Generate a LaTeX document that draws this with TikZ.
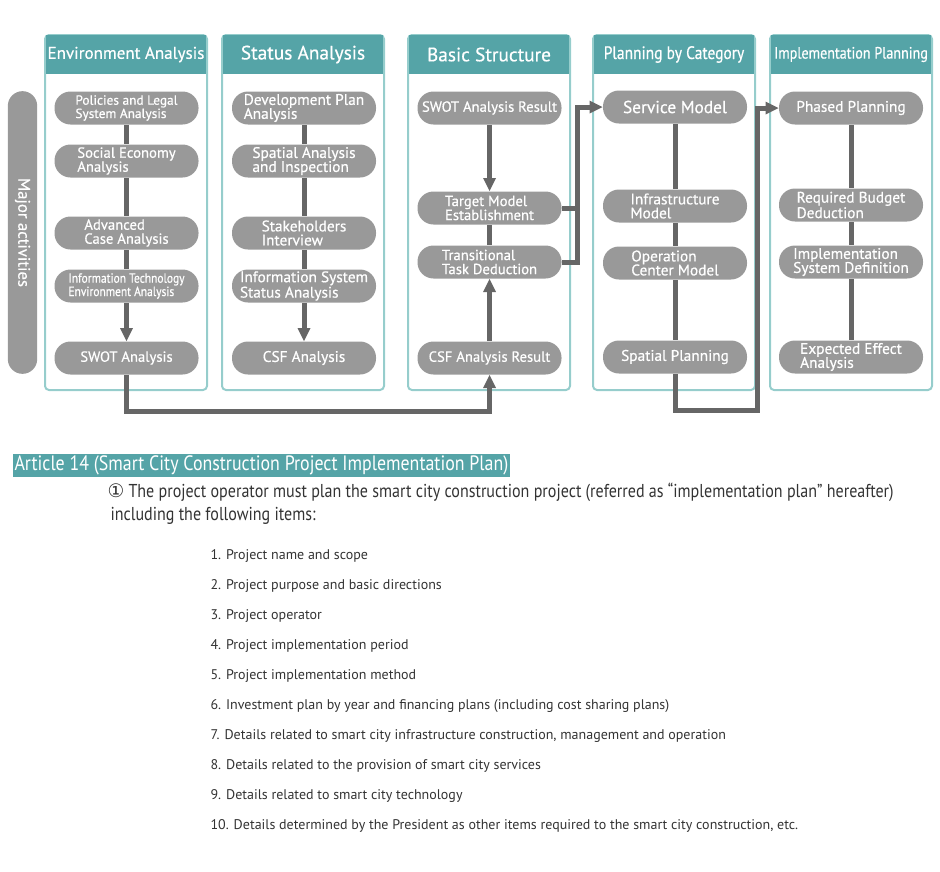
\documentclass[tikz,border=0pt]{standalone}
\usepackage{fontspec}
\setmainfont{PT Sans}
\newfontfamily\narrowfont[FakeStretch=0.86]{PT Sans}
\newfontfamily\labelfont[FakeBold=0.5]{PT Sans}
\newfontfamily\narrowlabel[FakeStretch=0.86,FakeBold=0.5]{PT Sans}
\newfontfamily\symfont{DejaVu Sans}

\definecolor{headteal}{RGB}{85,164,167}
\definecolor{frameteal}{RGB}{150,205,204}
\definecolor{pillgray}{RGB}{153,153,153}
\definecolor{flowgray}{RGB}{102,102,102}
\definecolor{bodytext}{RGB}{51,51,51}

\tikzset{every picture/.style={line width=0.75pt}}
\tikzset{
	framebox/.style={draw=frameteal, line width=1.5pt, rounded corners=3pt},
	headbox/.style={rectangle, fill=headteal, text=white, minimum width=120pt, minimum height=29pt, inner sep=0pt, font=\labelfont\fontsize{12.75}{14}\selectfont},
	pill/.style={rectangle, rounded corners=12pt, fill=pillgray, text=white, minimum width=108pt, minimum height=24.75pt, inner sep=0pt, align=left, font=\labelfont\fontsize{11}{10.5}\selectfont},
	widepill/.style={pill, font=\labelfont\fontsize{11.5}{10.5}\selectfont},
	flow/.style={draw=flowgray, line width=3.75pt},
	tiphead/.style={fill=flowgray, draw opacity=0, line width=0.08pt},
	bodyline/.style={anchor=west, inner sep=0.75pt, text=bodytext, font=\fontsize{10.5}{12}\selectfont}
}

\begin{document}
\begin{tikzpicture}[x=0.75pt,y=0.75pt,yscale=-1,xscale=1]
	\useasboundingbox (0,0) rectangle (940,872);
	
	%Shape: Rectangle (panel frames)
	\draw [framebox] (45,35) rectangle (207,390);
	\draw [framebox] (222,35) rectangle (384,390);
	\draw [framebox] (408,35) rectangle (570,390);
	\draw [framebox] (593,35) rectangle (755,390);
	\draw [framebox] (770,35) rectangle (932,390);
	
	% Header Nodes
	\node [headbox] (hdEnv) at (126,54.5) {Environment Analysis};
	\node [headbox, font=\labelfont\fontsize{14.5}{16}\selectfont] (hdSta) at (303,54.5) {Status Analysis};
	\node [headbox, font=\labelfont\fontsize{14.5}{16}\selectfont] (hdBas) at (489,54.5) {Basic Structure};
	\node [headbox, font=\narrowlabel\fontsize{13.5}{14}\selectfont] (hdCat) at (674,54.5) {Planning by Category};
	\node [headbox, font=\narrowlabel\fontsize{12.3}{14}\selectfont] (hdImp) at (851,54.5) {Implementation Planning};
	
	% Side label
	\node [rectangle, rounded corners=11pt, fill=pillgray, text=white, minimum width=212pt, minimum height=22pt, inner sep=0pt, rotate=-90, font=\labelfont\fontsize{12.5}{13}\selectfont] (major) at (22.5,232.5) {Major activities};
	
	% Environment Analysis column
	\node [pill, font=\labelfont\fontsize{10}{10}\selectfont] (pol) at (126.5,108) {Policies and Legal\\System Analysis};
	\node [pill] (soc) at (126.5,161) {Social Economy\\Analysis};
	\node [pill] (adv) at (126.5,233) {Advanced\\Case Analysis};
	\node [pill, font=\narrowlabel\fontsize{10}{10}\selectfont] (itec) at (126.5,286) {Information Technology\\Environment Analysis};
	\node [pill] (swot) at (126.5,358) {SWOT Analysis};
	
	% Status Analysis column
	\node [widepill] (dev) at (304,108) {Development Plan\\Analysis};
	\node [widepill] (spa) at (304,161) {Spatial Analysis\\and Inspection};
	\node [widepill] (stk) at (304,233) {Stakeholders\\Interview};
	\node [widepill] (isys) at (304,286) {Information System\\Status Analysis};
	\node [widepill] (csf) at (304,358) {CSF Analysis};
	
	% Basic Structure column
	\node [pill] (sres) at (489.5,108) {SWOT Analysis Result};
	\node [pill] (tgt) at (489.5,208) {Target Model\\Establishment};
	\node [pill] (trn) at (489.5,262) {Transitional\\Task Deduction};
	\node [pill] (cres) at (489.5,358) {CSF Analysis Result};
	
	% Planning by Category column
	\node [pill, font=\labelfont\fontsize{13}{14}\selectfont] (svc) at (675,107) {Service Model};
	\node [widepill] (infra) at (675,206) {Infrastructure\\Model};
	\node [widepill] (oper) at (675,263) {Operation\\Center Model};
	\node [widepill] (spat) at (675,357) {Spatial Planning};
	
	% Implementation Planning column
	\node [widepill] (phs) at (851,108) {Phased Planning};
	\node [widepill] (bud) at (851,205) {Required Budget\\Deduction};
	\node [widepill] (idef) at (851,262) {Implementation\\System Definition};
	\node [widepill] (eff) at (851,357) {Expected Effect\\Analysis};
	
	%Straight Lines
	\draw [flow] (pol) -- (soc);
	\draw [flow] (soc) -- (adv);
	\draw [flow] (adv) -- (itec);
	\draw [flow, shorten >=9pt] (itec) -- (swot);
	\draw [shift={(swot.north)}, rotate=-90] [tiphead] (13,-6.5) -- (0,0) -- (13,6.5) -- cycle;
	%Straight Lines
	\draw [flow] (dev) -- (spa);
	\draw [flow] (spa) -- (stk);
	\draw [flow] (stk) -- (isys);
	\draw [flow, shorten >=9pt] (isys) -- (csf);
	\draw [shift={(csf.north)}, rotate=-90] [tiphead] (13,-6.5) -- (0,0) -- (13,6.5) -- cycle;
	%Straight Lines
	\draw [flow, shorten >=9pt] (sres) -- (tgt);
	\draw [shift={(tgt.north)}, rotate=-90] [tiphead] (13,-6.5) -- (0,0) -- (13,6.5) -- cycle;
	\draw [flow] (tgt) -- (trn);
	\draw [flow, shorten >=9pt] (cres) -- (trn);
	\draw [shift={(trn.south)}, rotate=90] [tiphead] (13,-6.5) -- (0,0) -- (13,6.5) -- cycle;
	%Straight Lines
	\draw [flow] (svc) -- (infra);
	\draw [flow] (infra) -- (oper);
	\draw [flow] (oper) -- (spat);
	%Straight Lines
	\draw [flow] (phs) -- (bud);
	\draw [flow] (bud) -- (idef);
	\draw [flow] (idef) -- (eff);
	
	% Routing between columns
	\coordinate (lowA) at (489.5,411);
	\draw [flow, shorten >=9pt] (swot.south) |- (lowA) -- (cres.south);
	\draw [shift={(cres.south)}, rotate=90] [tiphead] (13,-6.5) -- (0,0) -- (13,6.5) -- cycle;
	\coordinate (riseB) at (577,262);
	\draw [flow] (tgt.east) -- (tgt.east -| riseB);
	\draw [flow, shorten >=9pt] (trn.east) -- (riseB) |- (svc.west);
	\draw [shift={(svc.west)}, rotate=180] [tiphead] (13,-6.5) -- (0,0) -- (13,6.5) -- cycle;
	\coordinate (lowC) at (757,410.5);
	\draw [flow, shorten >=9pt] (spat.south) |- (lowC) |- (phs.west);
	\draw [shift={(phs.west)}, rotate=180] [tiphead] (13,-6.5) -- (0,0) -- (13,6.5) -- cycle;
	
	% Text Node
	\node [anchor=west, fill=headteal, text=white, inner sep=1.5pt, font=\narrowfont\fontsize{15.6}{16}\selectfont] (art) at (12,465.5) {Article 14 (Smart City Construction Project Implementation Plan)};
	% Text Node
	\node [bodyline, font=\narrowfont\fontsize{14}{15}\selectfont] (par) at (106,492) {{\symfont ①} The project operator must plan the smart city construction project (referred as “implementation plan” hereafter)};
	% Text Node
	\node [bodyline, font=\narrowfont\fontsize{14}{15}\selectfont] (parb) at (109,516) {including the following items:};
	% Text Node
	\node [bodyline] (it1) at (209,556) {1. Project name and scope};
	% Text Node
	\node [bodyline] (it2) at (209,586) {2. Project purpose and basic directions};
	% Text Node
	\node [bodyline] (it3) at (209,616) {3. Project operator};
	% Text Node
	\node [bodyline] (it4) at (209,646) {4. Project implementation period};
	% Text Node
	\node [bodyline] (it5) at (209,676) {5. Project implementation method};
	% Text Node
	\node [bodyline] (it6) at (209,706) {6. Investment plan by year and financing plans (including cost sharing plans)};
	% Text Node
	\node [bodyline] (it7) at (209,736) {7. Details related to smart city infrastructure construction, management and operation};
	% Text Node
	\node [bodyline] (it8) at (209,766) {8. Details related to the provision of smart city services};
	% Text Node
	\node [bodyline] (it9) at (209,796) {9. Details related to smart city technology};
	% Text Node
	\node [bodyline] (it10) at (209,826) {10. Details determined by the President as other items required to the smart city construction, etc.};
	
\end{tikzpicture}
\end{document}
